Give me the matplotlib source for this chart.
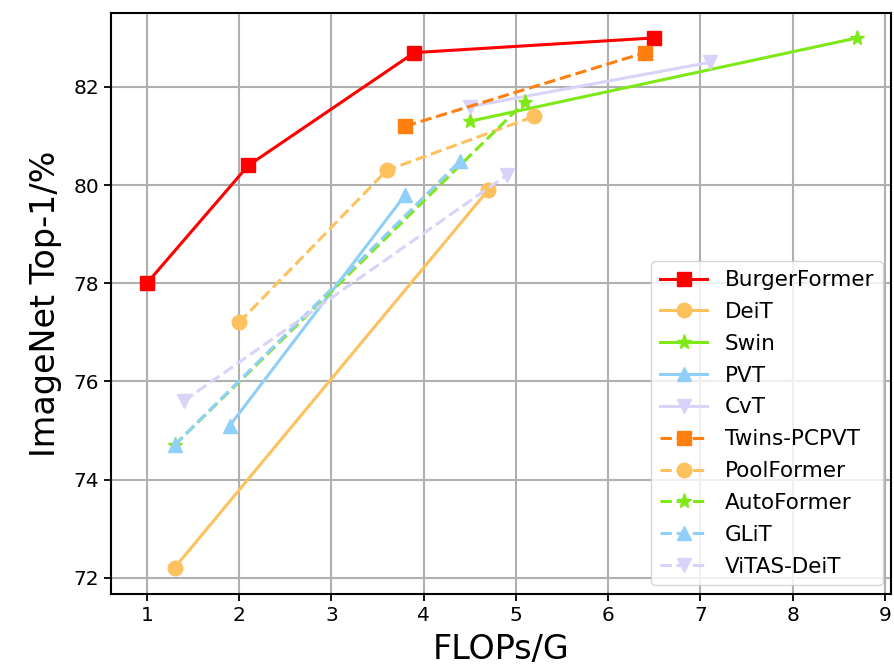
import matplotlib
matplotlib.use("Agg")
import matplotlib.pyplot as plt

names = ["BurgerFormer", "DeiT", "Swin", "PVT", "CvT", "Twins-PCPVT",
         "PoolFormer", "AutoFormer", "GLiT", "ViTAS-DeiT"]
flops = [
    [1.0, 2.1, 3.9, 6.5],
    [1.3, 4.7],
    [4.5, 8.7],
    [1.9, 3.8],
    [4.5, 7.1],
    [3.8, 6.4],
    [2.0, 3.6, 5.2],
    [1.3, 5.1],
    [1.3, 4.4],
    [1.4, 4.9],
]
top1 = [
    [78.0, 80.4, 82.7, 83.0],
    [72.2, 79.9],
    [81.3, 83.0],
    [75.1, 79.8],
    [81.6, 82.5],
    [81.2, 82.7],
    [77.2, 80.3, 81.4],
    [74.7, 81.7],
    [74.7, 80.5],
    [75.6, 80.2],
]
colors = ["#ff0000", "#fdc15e", "#7fe817", "#8fcffa", "#d9d3fa",
          "#ff7f0e", "#fdc15e", "#7fe817", "#8fcffa", "#d9d3fa"]
markers = ["s", "o", "*", "^", "v", "s", "o", "*", "^", "v"]
styles = ["-", "-", "-", "-", "-", "--", "--", "--", "--", "--"]

fig = plt.figure(figsize=(8.94, 6.68), dpi=100)
ax = fig.add_axes([0.124, 0.111, 0.873, 0.869])
for n, x, y, c, m, s in zip(names, flops, top1, colors, markers, styles):
    ms = 11 if m == "*" else 10.5
    ax.plot(x, y, linestyle=s, marker=m, color=c, label=n, linewidth=2.2, markersize=ms)

ax.set_xlim(0.61, 9.07)
ax.set_ylim(71.67, 83.5)
ax.set_xticks(range(1, 10))
ax.set_yticks(range(72, 84, 2))
ax.tick_params(labelsize=14.5, length=5, width=1.3)
ax.grid(True, color="#b0b0b0", linewidth=1.5)
ax.set_axisbelow(True)
for sp in ax.spines.values():
    sp.set_linewidth(1.5)
ax.set_xlabel("FLOPs/G", fontsize=24, labelpad=6)
ax.set_ylabel("ImageNet Top-1/%", fontsize=24, labelpad=8)
ax.legend(loc="lower right", fontsize=15.5, framealpha=0.8, handlelength=2.2,
          borderaxespad=0.4, labelspacing=0.55, handletextpad=0.8)
fig.savefig("out.png", dpi=100)
